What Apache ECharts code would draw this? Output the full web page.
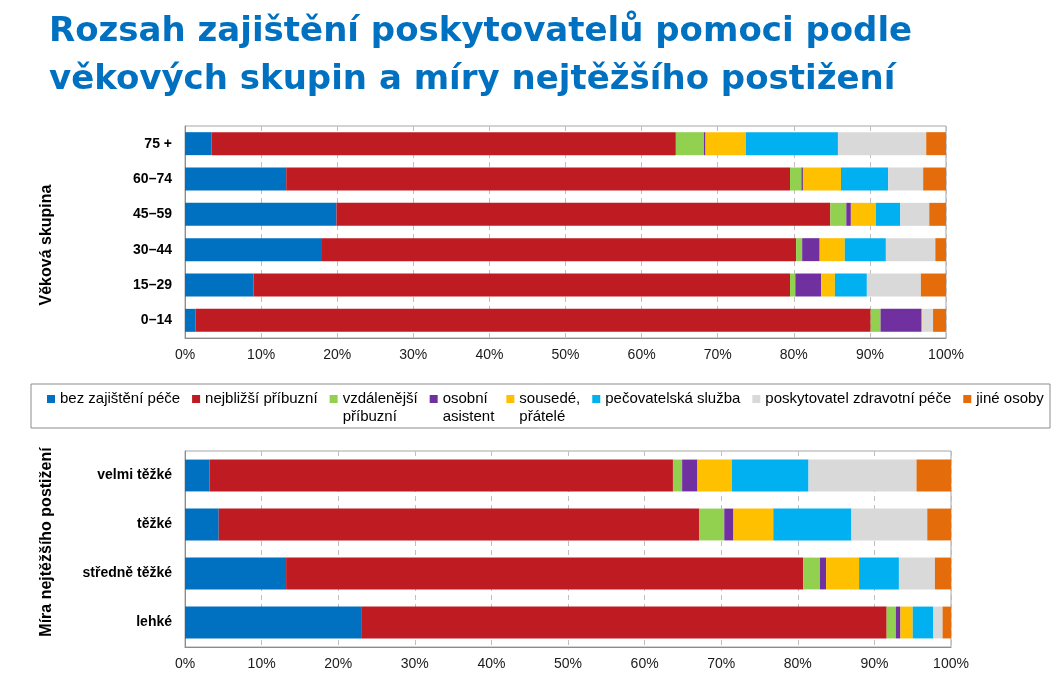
<!DOCTYPE html>
<html>
<head>
<meta charset="utf-8">
<script src="https://cdn.jsdelivr.net/npm/echarts@6/dist/echarts.min.js"></script>
<style>
html,body{margin:0;padding:0;background:#fff;}
#c{width:1061px;height:680px;}
</style>
</head>
<body>
<div id="c"></div>
<script>
// ---- data ----
const seriesNames = ['bez zajištění péče','nejbližší příbuzní','vzdálenější příbuzní','osobní asistent','sousedé, přátelé','pečovatelská služba','poskytovatel zdravotní péče','jiné osoby'];
const legendLabels = ['bez zajištění péče','nejbližší příbuzní','vzdálenější\npříbuzní','osobní\nasistent','sousedé,\npřátelé','pečovatelská služba','poskytovatel zdravotní péče','jiné osoby'];
const colors = ['#0070C0','#BE1B22','#92D050','#7030A0','#FFC000','#00B0F0','#D9D9D9','#E46C0A'];

const ageCategories = ['75 +','60–74','45–59','30–44','15–29','0–14'];
const ageBez      = [3.5, 13.3, 19.9, 18.0, 9.0, 1.4];
const ageNejbl    = [61.0, 66.2, 64.9, 62.3, 70.5, 88.7];
const ageVzdal    = [3.7, 1.5, 2.1, 0.8, 0.7, 1.3];
const ageOsob     = [0.2, 0.2, 0.6, 2.3, 3.4, 5.4];
const ageSous     = [5.3, 5.0, 3.3, 3.3, 1.8, 0.1];
const agePec      = [12.1, 6.2, 3.2, 5.4, 4.2, 0];
const agePosk     = [11.6, 4.6, 3.8, 6.5, 7.1, 1.4];
const ageJine     = [2.6, 3.0, 2.2, 1.4, 3.3, 1.7];

const sevCategories = ['velmi těžké','těžké','středně těžké','lehké'];
const sevBez      = [3.2, 4.4, 13.2, 23.0];
const sevNejbl    = [60.5, 62.7, 67.5, 68.6];
const sevVzdal    = [1.2, 3.3, 2.2, 1.2];
const sevOsob     = [2.0, 1.2, 0.8, 0.6];
const sevSous     = [4.5, 5.2, 4.3, 1.6];
const sevPec      = [10.0, 10.2, 5.2, 2.7];
const sevPosk     = [14.1, 9.9, 4.7, 1.2];
const sevJine     = [4.5, 3.1, 2.1, 1.1];

const xTicks = [0,10,20,30,40,50,60,70,80,90,100];

// ---- build ----
const ageData = [ageBez, ageNejbl, ageVzdal, ageOsob, ageSous, agePec, agePosk, ageJine];
const sevData = [sevBez, sevNejbl, sevVzdal, sevOsob, sevSous, sevPec, sevPosk, sevJine];
const FONT = "'Liberation Sans', Arial, sans-serif";

function xAxisDef(gridIndex) {
  return {
    type: 'value', gridIndex: gridIndex, min: xTicks[0], max: xTicks[xTicks.length-1], interval: xTicks[1]-xTicks[0],
    axisLine: {show: true, lineStyle: {color: '#8C8C8C', width: 1}},
    axisTick: {show: false},
    splitLine: {show: true, lineStyle: {color: '#BFBFBF', type: [5,4], width: 1}},
    axisLabel: {formatter: '{value}%', color: '#1a1a1a', fontSize: 14, fontFamily: FONT, margin: 10}
  };
}
function yAxisDef(gridIndex, cats, name, pad) {
  return {
    type: 'category', gridIndex: gridIndex, data: cats, inverse: true,
    axisLine: {show: true, lineStyle: {color: '#8C8C8C', width: 1}},
    axisTick: {show: false},
    axisLabel: {color: '#000', fontSize: 14, fontWeight: 'bold', fontFamily: FONT, margin: 13},
    name: name, nameLocation: 'middle', nameRotate: 90, nameGap: 130,
    nameTextStyle: {color: '#000', fontSize: 16, fontWeight: 'bold', fontFamily: FONT, padding: pad}
  };
}

const series = [];
seriesNames.forEach((n, i) => {
  series.push({
    name: n, type: 'bar', stack: 'age', xAxisIndex: 0, yAxisIndex: 0,
    barCategoryGap: '35%', data: ageData[i], itemStyle: {color: colors[i]}, silent: true
  });
});
seriesNames.forEach((n, i) => {
  series.push({
    name: n, type: 'bar', stack: 'sev', xAxisIndex: 1, yAxisIndex: 1,
    barCategoryGap: '35%', data: sevData[i], itemStyle: {color: colors[i]}, silent: true
  });
});

const chart = echarts.init(document.getElementById('c'), null, {renderer: 'canvas'});
chart.setOption({
  animation: false,
  backgroundColor: '#fff',
  color: colors,
  title: {
    text: 'Rozsah zajištění poskytovatelů pomoci podle\nvěkových skupin a míry nejtěžšího postižení',
    left: 44, top: 3,
    textStyle: {color: '#0070C0', fontSize: 34, fontWeight: 'bold', fontFamily: "'DejaVu Sans', sans-serif", lineHeight: 48}
  },
  legend: {
    left: 47, top: 372, width: 1010, padding: 0, itemGap: 12, itemWidth: 8, itemHeight: 8, icon: 'rect',
    selectedMode: false,
    data: seriesNames,
    formatter: function (name) {
      const l = legendLabels[seriesNames.indexOf(name)];
      return ' \n' + (l.indexOf('\n') >= 0 ? l : l + '\n ');
    },
    textStyle: {color: '#000', fontSize: 15, fontFamily: FONT, lineHeight: 18}
  },
  graphic: [{
    type: 'rect', shape: {x: 31, y: 384, width: 1019, height: 44},
    style: {fill: 'none', stroke: '#8C8C8C', lineWidth: 1}, silent: true
  }],
  grid: [
    {left: 185, right: 115, top: 126, height: 212, show: true, borderColor: '#A6A6A6', borderWidth: 1},
    {left: 185, right: 110, top: 451, height: 196, show: true, borderColor: '#A6A6A6', borderWidth: 1}
  ],
  xAxis: [xAxisDef(0), xAxisDef(1)],
  yAxis: [
    yAxisDef(0, ageCategories, 'Věková skupina', [0, 26, 0, 0]),
    yAxisDef(1, sevCategories, 'Míra nejtěžšího postižení', [0, 0, 0, 14])
  ],
  series: series
});
</script>
</body>
</html>
